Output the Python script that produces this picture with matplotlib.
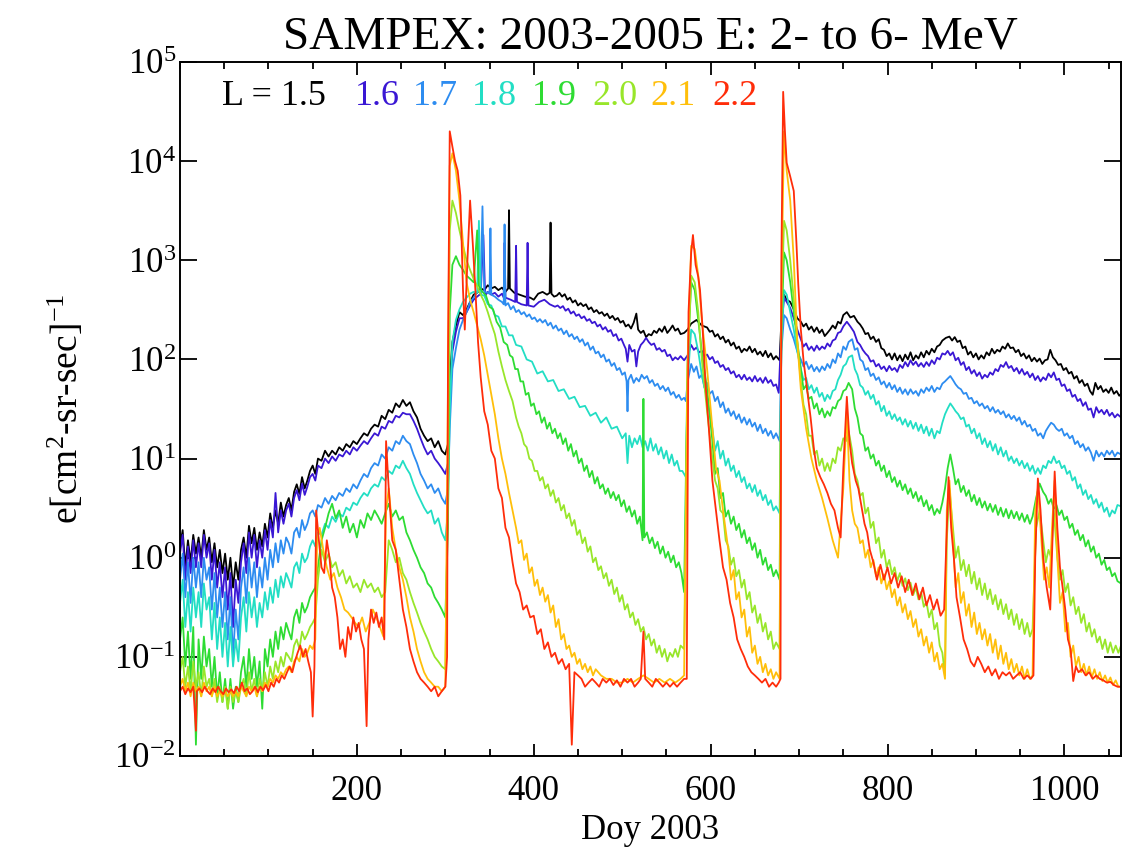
import matplotlib
matplotlib.use("Agg")
import matplotlib.pyplot as plt
from matplotlib.ticker import MultipleLocator, NullLocator, FixedLocator, LogFormatterMathtext

plt.rcParams["font.family"] = ["Liberation Serif", "DejaVu Serif"]
plt.rcParams["mathtext.fontset"] = "custom"
plt.rcParams["mathtext.rm"] = "Liberation Serif"
plt.rcParams["mathtext.it"] = "Liberation Serif:italic"
plt.rcParams["mathtext.default"] = "regular"
plt.rcParams["axes.unicode_minus"] = False

# (day, flux), one list per L shell
L15 = [(0, 1.3), (3, 1.9), (6, 0.8), (9, 1.5), (12, 0.9), (15, 1.7), (18, 1.1), (21, 1.6), (24, 1.0), (27, 1.9),
       (30, 1.2), (33, 1.6), (36, 0.9), (39, 1.4), (42, 0.8), (45, 1.2), (48, 0.7), (51, 1.1), (54, 0.6), (57, 1.0),
       (60, 0.5), (63, 0.9), (66, 0.6), (69, 1.2), (72, 1.6), (75, 1.0), (78, 2.1), (81, 1.4), (84, 2.0), (87, 1.2),
       (90, 1.8), (93, 1.3), (96, 2.2), (99, 1.6), (102, 2.8), (105, 2.0), (108, 3.0), (111, 2.2), (114, 3.6),
       (117, 2.6), (120, 3.4), (123, 4.0), (126, 3.0), (129, 4.6), (132, 5.5), (135, 4.4), (138, 6.5), (141, 5.0),
       (144, 6.0), (147, 7.5), (150, 8.5), (153, 7.0), (156, 10), (160, 9.5), (164, 12), (168, 10.5), (172, 12),
       (176, 11), (180, 13), (184, 12), (188, 14), (192, 13), (196, 15), (200, 14), (204, 16), (208, 18), (212, 17),
       (216, 20), (220, 22), (224, 21), (228, 27), (232, 25), (236, 31), (240, 29), (244, 36), (248, 33), (252, 39),
       (256, 34), (260, 37), (264, 30), (268, 26), (272, 20), (276, 17), (280, 15), (284, 16), (288, 13), (292, 15),
       (296, 12), (300, 11), (303, 14), (305, 60), (308, 150), (312, 220), (316, 300), (320, 280), (324, 320),
       (328, 380), (332, 450), (336, 470), (340, 520), (344, 500), (348, 560), (352, 520), (356, 540), (360, 500),
       (364, 530), (368, 480), (371, 520), (372, 3200), (373, 520), (378, 470), (384, 450), (390, 430), (396, 420),
       (400, 400), (405, 460), (410, 480), (415, 450), (418, 470), (419, 2400), (420, 460), (423, 430), (426, 440),
       (429, 470), (432, 430), (435, 455), (438, 400), (441, 420), (444, 375), (447, 395), (450, 350), (453, 370),
       (456, 345), (459, 360), (462, 320), (465, 335), (468, 300), (471, 315), (474, 290), (477, 300), (480, 275),
       (483, 290), (486, 260), (489, 275), (492, 250), (495, 262), (498, 235), (501, 245), (504, 215), (507, 225),
       (510, 205), (513, 235), (516, 290), (518, 200), (521, 185), (524, 195), (527, 168), (530, 180), (533, 175),
       (536, 195), (539, 185), (542, 205), (545, 190), (548, 215), (551, 185), (554, 200), (557, 220), (560, 195),
       (563, 205), (566, 180), (570, 185), (574, 200), (578, 230), (584, 250), (590, 220), (596, 210), (599, 190),
       (602, 195), (605, 170), (608, 180), (611, 160), (614, 170), (617, 148), (620, 158), (623, 138), (626, 148),
       (629, 128), (632, 135), (635, 118), (638, 128), (641, 122), (644, 135), (647, 118), (650, 128), (653, 112),
       (656, 120), (659, 108), (662, 122), (665, 105), (668, 115), (671, 100), (674, 108), (678, 98), (680, 250),
       (683, 450), (686, 400), (690, 380), (694, 320), (698, 260), (702, 240), (705, 215), (708, 230), (711, 200),
       (714, 215), (717, 190), (720, 210), (723, 185), (726, 200), (729, 172), (732, 185), (735, 200), (738, 220),
       (741, 205), (744, 240), (747, 230), (750, 280), (754, 300), (758, 265), (762, 275), (766, 240), (769, 225),
       (772, 205), (775, 180), (778, 185), (781, 160), (784, 170), (787, 150), (790, 160), (793, 130), (796, 125),
       (799, 108), (802, 115), (805, 100), (808, 115), (811, 98), (814, 110), (817, 96), (820, 112), (823, 100),
       (826, 118), (829, 98), (832, 110), (835, 102), (838, 118), (841, 105), (844, 122), (847, 112), (850, 128),
       (853, 118), (856, 135), (859, 140), (862, 155), (866, 165), (870, 170), (873, 155), (876, 168), (879, 150),
       (882, 155), (885, 130), (888, 135), (891, 112), (894, 120), (897, 105), (900, 115), (903, 100), (906, 110),
       (909, 102), (912, 118), (915, 110), (918, 128), (921, 115), (924, 125), (927, 120), (930, 135), (933, 128),
       (936, 145), (939, 130), (942, 132), (945, 118), (948, 125), (951, 108), (954, 115), (957, 102), (960, 110),
       (963, 96), (966, 104), (969, 95), (972, 102), (975, 90), (978, 98), (981, 100), (984, 125), (987, 105),
       (990, 98), (993, 88), (996, 90), (999, 78), (1002, 82), (1005, 72), (1008, 75), (1011, 64), (1014, 68),
       (1017, 58), (1020, 62), (1023, 54), (1026, 57), (1029, 48), (1032, 44), (1035, 58), (1038, 50), (1041, 54),
       (1044, 47), (1047, 50), (1050, 46), (1053, 52), (1056, 45), (1059, 48), (1062, 43), (1064, 45)]

L16 = [(0, 1.1), (3, 1.7), (6, 0.6), (9, 1.3), (12, 0.7), (15, 1.5), (18, 0.8), (21, 1.4), (24, 0.8), (27, 1.7),
       (30, 1.0), (33, 1.4), (36, 0.6), (39, 1.2), (42, 0.5), (45, 0.9), (48, 0.4), (51, 0.8), (54, 0.3), (57, 0.7),
       (60, 0.2), (63, 0.6), (66, 0.35), (69, 0.9), (72, 1.4), (75, 0.7), (78, 1.8), (81, 1.0), (84, 1.7), (87, 0.8),
       (90, 1.5), (93, 1.0), (96, 1.9), (99, 1.2), (102, 2.4), (105, 1.6), (108, 4.5), (111, 1.8), (114, 3.0),
       (117, 2.2), (120, 3.0), (123, 3.5), (126, 2.6), (129, 4.0), (132, 4.8), (135, 3.8), (138, 5.6), (141, 4.3),
       (144, 5.2), (147, 6.5), (150, 7.0), (153, 6.0), (156, 8.5), (160, 8.0), (164, 10), (168, 9.0), (172, 10.5),
       (176, 9.5), (180, 11), (184, 10.5), (188, 12), (192, 11), (196, 13), (200, 12), (204, 13.5), (208, 15),
       (212, 14), (216, 16), (220, 18), (224, 17), (228, 21), (232, 20), (236, 24), (240, 23), (244, 27), (248, 26),
       (252, 29), (256, 28), (260, 28), (264, 24), (268, 20), (272, 16), (276, 13), (280, 11), (284, 12), (288, 10),
       (292, 9), (296, 8), (300, 7), (303, 9), (305, 40), (308, 120), (312, 190), (316, 260), (320, 260), (324, 300),
       (328, 350), (332, 400), (336, 430), (340, 460), (343, 1800), (345, 440), (348, 480), (352, 450), (356, 470),
       (360, 430), (364, 460), (366, 420), (367, 1500), (368, 420), (374, 400), (379, 380), (380, 1400), (381, 380),
       (386, 360), (392, 350), (393, 1500), (394, 350), (400, 340), (406, 380), (412, 400), (418, 360), (424, 340),
       (427, 350), (430, 330), (433, 345), (436, 310), (439, 325), (442, 290), (445, 305), (448, 275), (451, 285),
       (454, 260), (457, 272), (460, 245), (463, 255), (466, 232), (469, 240), (472, 215), (475, 225), (478, 200),
       (481, 212), (484, 190), (487, 198), (490, 172), (493, 180), (496, 155), (499, 162), (502, 140), (504, 128),
       (506, 95), (508, 140), (511, 120), (514, 125), (516, 85), (518, 120), (521, 140), (524, 150), (527, 165),
       (530, 150), (533, 140), (536, 145), (539, 125), (542, 130), (545, 120), (548, 125), (551, 108), (554, 112),
       (557, 98), (560, 105), (563, 100), (566, 108), (570, 98), (574, 110), (578, 140), (581, 125), (584, 132),
       (587, 118), (590, 122), (593, 108), (596, 112), (599, 100), (602, 106), (605, 92), (608, 96), (611, 84),
       (614, 88), (617, 78), (620, 82), (623, 72), (626, 76), (629, 66), (632, 70), (635, 63), (638, 70), (641, 62),
       (644, 66), (647, 60), (650, 68), (653, 60), (656, 65), (659, 58), (662, 66), (665, 58), (668, 62), (671, 54),
       (674, 56), (677, 46), (680, 200), (683, 420), (686, 380), (690, 330), (694, 260), (698, 200), (702, 160),
       (705, 135), (708, 145), (711, 125), (714, 135), (717, 122), (720, 138), (723, 125), (726, 135), (729, 128),
       (732, 145), (735, 135), (738, 155), (741, 160), (744, 185), (747, 190), (750, 215), (754, 240), (758, 215),
       (762, 190), (766, 150), (769, 140), (772, 125), (775, 115), (778, 108), (781, 95), (784, 98), (787, 85),
       (790, 90), (793, 80), (796, 85), (799, 76), (802, 86), (805, 78), (808, 82), (811, 75), (814, 88), (817, 82),
       (820, 94), (823, 85), (826, 98), (829, 88), (832, 95), (835, 85), (838, 92), (841, 84), (844, 94), (847, 86),
       (850, 98), (853, 90), (856, 104), (859, 100), (862, 115), (865, 112), (868, 122), (871, 110), (874, 118),
       (877, 98), (880, 104), (883, 88), (886, 94), (889, 78), (892, 84), (895, 72), (898, 78), (901, 68), (904, 74),
       (907, 64), (910, 70), (913, 66), (916, 74), (919, 70), (922, 80), (925, 76), (928, 88), (931, 84), (934, 94),
       (937, 82), (940, 86), (943, 76), (946, 82), (949, 72), (952, 80), (955, 70), (958, 75), (961, 66), (964, 72),
       (967, 62), (970, 68), (973, 60), (976, 66), (979, 62), (982, 72), (985, 66), (988, 74), (991, 62), (994, 64),
       (997, 54), (1000, 56), (1003, 48), (1006, 50), (1009, 42), (1012, 44), (1015, 38), (1018, 40), (1021, 34),
       (1024, 37), (1027, 31), (1030, 32), (1033, 26), (1036, 33), (1039, 29), (1042, 31), (1045, 28), (1048, 31),
       (1051, 27), (1054, 29), (1057, 26), (1060, 28), (1064, 26)]

L17 = [(0, 0.6), (3, 1.1), (6, 0.4), (9, 0.9), (12, 0.35), (15, 1.0), (18, 0.5), (21, 0.9), (24, 0.4), (27, 1.0),
       (30, 0.6), (33, 0.8), (36, 0.3), (39, 0.7), (42, 0.25), (45, 0.5), (48, 0.2), (51, 0.45), (54, 0.15),
       (57, 0.4), (60, 0.1), (63, 0.3), (66, 0.15), (69, 0.5), (72, 0.8), (75, 0.35), (78, 1.0), (81, 0.5),
       (84, 0.9), (87, 0.4), (90, 0.8), (93, 0.5), (96, 1.0), (99, 0.6), (102, 1.2), (105, 0.8), (108, 1.4),
       (111, 0.9), (114, 1.5), (117, 1.1), (120, 1.6), (123, 1.4), (126, 1.1), (129, 1.8), (132, 2.0), (135, 1.6),
       (138, 2.4), (141, 1.9), (144, 2.2), (147, 2.8), (150, 3.0), (153, 2.6), (156, 3.4), (160, 3.2), (164, 4.0),
       (168, 3.5), (172, 4.2), (176, 3.8), (180, 4.5), (184, 4.2), (188, 5.0), (192, 4.6), (196, 5.5), (200, 5.0),
       (204, 6.0), (208, 7.0), (212, 6.5), (216, 8.0), (220, 9.0), (224, 8.5), (228, 11), (232, 10), (236, 13),
       (240, 12), (244, 15), (248, 14), (252, 17), (256, 15), (260, 14), (264, 11), (268, 9), (272, 7), (276, 6),
       (280, 5), (284, 5.5), (288, 4.5), (292, 5), (296, 4), (300, 3.5), (303, 5), (305, 20), (308, 80), (312, 130),
       (316, 200), (320, 250), (324, 300), (328, 380), (332, 420), (336, 480), (340, 500), (342, 3500), (344, 480),
       (348, 470), (350, 460), (351, 2100), (352, 450), (356, 430), (360, 400), (364, 380), (366, 360), (367, 2300),
       (368, 350), (371, 370), (374, 320), (377, 345), (380, 300), (383, 315), (386, 285), (389, 300), (392, 270),
       (395, 285), (398, 255), (401, 265), (404, 240), (407, 255), (410, 235), (413, 250), (416, 220), (419, 235),
       (422, 205), (425, 220), (428, 195), (431, 205), (434, 180), (437, 195), (440, 170), (443, 180), (446, 160),
       (449, 170), (452, 150), (455, 160), (458, 138), (461, 148), (464, 125), (467, 135), (470, 115), (473, 120),
       (476, 105), (479, 112), (482, 95), (485, 100), (488, 86), (491, 92), (494, 78), (497, 82), (500, 70),
       (503, 74), (505, 60), (506, 30), (507, 62), (510, 70), (513, 58), (516, 65), (519, 60), (522, 70), (525, 64),
       (528, 68), (531, 58), (534, 62), (537, 54), (540, 57), (543, 50), (546, 54), (549, 48), (552, 52), (555, 44),
       (558, 47), (561, 41), (564, 44), (567, 39), (570, 41), (572, 38), (574, 60), (578, 90), (581, 75), (584, 85),
       (587, 65), (590, 70), (593, 52), (596, 58), (599, 45), (602, 48), (605, 38), (608, 42), (611, 33), (614, 37),
       (617, 29), (620, 32), (623, 27), (626, 30), (629, 25), (632, 28), (635, 23), (638, 26), (641, 22), (644, 25),
       (647, 21), (650, 23), (653, 19), (656, 22), (659, 18), (662, 20), (665, 17), (668, 19), (671, 16), (674, 18),
       (678, 15), (680, 120), (683, 280), (686, 260), (690, 200), (694, 160), (698, 120), (702, 100), (705, 85),
       (708, 95), (711, 80), (714, 88), (717, 76), (720, 84), (723, 75), (726, 85), (729, 78), (732, 90), (735, 82),
       (738, 100), (741, 92), (744, 115), (747, 105), (750, 135), (753, 125), (756, 150), (760, 160), (763, 125),
       (766, 130), (769, 100), (772, 95), (775, 78), (778, 82), (781, 68), (784, 72), (787, 62), (790, 66), (793, 56),
       (796, 60), (799, 52), (802, 58), (805, 50), (808, 55), (811, 47), (814, 52), (817, 45), (820, 50), (823, 44),
       (826, 50), (829, 45), (832, 48), (835, 43), (838, 50), (841, 46), (844, 52), (847, 48), (850, 54), (853, 47),
       (856, 52), (859, 50), (862, 57), (865, 60), (868, 64), (871, 68), (874, 62), (877, 56), (880, 52), (883, 50),
       (886, 45), (889, 46), (892, 40), (895, 41), (898, 36), (901, 38), (904, 34), (907, 36), (910, 32), (913, 34),
       (916, 30), (919, 33), (922, 29), (925, 31), (928, 28), (931, 30), (934, 26), (937, 28), (940, 25), (943, 27),
       (946, 24), (949, 26), (952, 22), (955, 24), (958, 21), (961, 22), (964, 19), (967, 20), (970, 17), (973, 18),
       (976, 16), (979, 19), (982, 21), (985, 23), (988, 22), (991, 20), (994, 19), (997, 20), (1000, 17),
       (1003, 18), (1006, 16), (1009, 17), (1012, 14), (1015, 15), (1018, 13), (1021, 14), (1024, 12), (1027, 13),
       (1030, 11.5), (1033, 9.5), (1036, 12), (1039, 10.5), (1042, 11.5), (1045, 10.5), (1048, 12), (1051, 11),
       (1054, 12), (1057, 10.5), (1060, 11.5), (1064, 11)]

L18 = [(0, 0.35), (3, 0.6), (6, 0.2), (9, 0.45), (12, 0.18), (15, 0.5), (18, 0.25), (21, 0.45), (24, 0.2),
       (27, 0.55), (30, 0.3), (33, 0.4), (36, 0.15), (39, 0.35), (42, 0.12), (45, 0.25), (48, 0.1), (51, 0.22),
       (54, 0.08), (57, 0.2), (60, 0.08), (63, 0.15), (66, 0.09), (69, 0.25), (72, 0.4), (75, 0.18), (78, 0.45),
       (81, 0.25), (84, 0.4), (87, 0.2), (90, 0.35), (93, 0.25), (96, 0.45), (99, 0.3), (102, 0.5), (105, 0.35),
       (108, 0.6), (111, 0.4), (114, 0.65), (117, 0.5), (120, 0.7), (123, 0.6), (126, 0.5), (129, 0.8), (132, 0.9),
       (135, 0.7), (138, 1.1), (141, 0.9), (144, 1.0), (147, 1.3), (150, 1.5), (153, 1.3), (156, 1.8), (160, 1.7),
       (164, 2.2), (168, 2.0), (172, 2.6), (176, 2.3), (180, 2.8), (184, 2.6), (188, 3.2), (192, 3.0), (196, 3.6),
       (200, 3.4), (204, 4.0), (208, 4.5), (212, 4.2), (216, 5.0), (220, 5.5), (224, 5.2), (228, 6.5), (232, 6.0),
       (236, 7.5), (240, 7.0), (244, 8.5), (248, 8.0), (252, 9.5), (256, 8.0), (260, 7.0), (264, 5.5), (268, 4.5),
       (272, 3.8), (276, 3.2), (280, 2.8), (284, 3.0), (288, 2.2), (292, 2.5), (296, 1.8), (300, 1.5), (303, 3),
       (305, 30), (308, 150), (312, 250), (316, 320), (320, 380), (324, 420), (328, 460), (332, 480), (336, 470),
       (338, 2500), (340, 450), (344, 440), (348, 360), (352, 350), (356, 280), (360, 270), (364, 215), (368, 215),
       (372, 175), (376, 175), (380, 140), (386, 135), (392, 100), (398, 95), (404, 72), (410, 76), (416, 60),
       (422, 62), (428, 48), (434, 50), (440, 40), (446, 42), (452, 33), (458, 34), (464, 27), (470, 29), (476, 23),
       (482, 26), (488, 20), (494, 21), (500, 16), (504, 18), (506, 9), (508, 17), (511, 13), (514, 16), (517, 14),
       (520, 17), (523, 13), (526, 15), (529, 12), (532, 16), (535, 12), (538, 14), (541, 11), (544, 13), (547, 10),
       (550, 12), (553, 9), (556, 11), (559, 8.5), (562, 9.5), (565, 7.5), (568, 7.5), (572, 6.5), (574, 60),
       (578, 200), (582, 180), (586, 120), (590, 70), (596, 40), (602, 20), (605, 12), (608, 15), (611, 10),
       (614, 12), (617, 8.5), (620, 10), (623, 7.5), (626, 8.5), (629, 6.5), (632, 7.5), (635, 5.8), (638, 6.5),
       (641, 5), (644, 5.6), (647, 4.6), (650, 5.4), (653, 4.2), (656, 4.8), (659, 3.8), (662, 4.3), (665, 3.4),
       (668, 3.8), (671, 3.0), (674, 3.3), (678, 2.8), (680, 150), (683, 500), (686, 450), (690, 300), (694, 200),
       (698, 120), (702, 80), (705, 62), (708, 65), (711, 50), (714, 55), (717, 46), (720, 52), (723, 42), (726, 46),
       (729, 38), (732, 44), (735, 40), (738, 48), (741, 50), (744, 62), (747, 70), (750, 85), (753, 90), (756, 105),
       (760, 110), (763, 80), (766, 70), (769, 55), (772, 52), (775, 44), (778, 48), (781, 40), (784, 44), (787, 35),
       (790, 38), (793, 30), (796, 34), (799, 27), (802, 30), (805, 25), (808, 28), (811, 24), (814, 26), (817, 22),
       (820, 25), (823, 21), (826, 24), (829, 20), (832, 23), (835, 19), (838, 22), (841, 18), (844, 21), (847, 17),
       (850, 20), (853, 16), (856, 19), (859, 18), (862, 23), (865, 28), (868, 32), (871, 36), (874, 33), (877, 30),
       (880, 28), (883, 25), (886, 26), (889, 21), (892, 22), (895, 18), (898, 20), (901, 16), (904, 18), (907, 14),
       (910, 16), (913, 13), (916, 15), (919, 12), (922, 14), (925, 11), (928, 13), (931, 10.5), (934, 12),
       (937, 9.5), (940, 10.5), (943, 9), (946, 10), (949, 8.5), (952, 9.5), (955, 8), (958, 9), (961, 7.5),
       (964, 8.5), (967, 7), (970, 8), (973, 7), (976, 8.5), (979, 8), (982, 9.5), (985, 9), (988, 10.5), (991, 9),
       (994, 9.5), (997, 8), (1000, 8.5), (1003, 7), (1006, 7.5), (1009, 6), (1012, 6.5), (1015, 5), (1018, 5.5),
       (1021, 4.3), (1024, 4.8), (1027, 3.9), (1030, 4.3), (1033, 3.5), (1036, 3.9), (1039, 3.2), (1042, 3.6),
       (1045, 2.9), (1048, 3.2), (1051, 2.6), (1054, 3.0), (1057, 2.8), (1060, 3.4), (1064, 3.3)]

L19 = [(0, 0.15), (3, 0.25), (6, 0.08), (9, 0.18), (12, 0.06), (15, 0.2), (18, 0.013), (21, 0.15), (24, 0.06),
       (27, 0.16), (30, 0.08), (33, 0.12), (36, 0.05), (39, 0.1), (42, 0.04), (45, 0.07), (48, 0.035), (51, 0.06),
       (54, 0.03), (57, 0.06), (60, 0.03), (63, 0.05), (66, 0.035), (69, 0.07), (72, 0.1), (75, 0.05), (78, 0.12),
       (81, 0.06), (84, 0.1), (87, 0.05), (90, 0.09), (93, 0.03), (96, 0.12), (99, 0.08), (102, 0.15), (105, 0.1),
       (108, 0.18), (111, 0.12), (114, 0.2), (117, 0.15), (120, 0.22), (123, 0.18), (126, 0.15), (129, 0.25),
       (132, 0.3), (135, 0.22), (138, 0.35), (141, 0.28), (144, 0.32), (147, 0.4), (150, 0.45), (153, 0.5),
       (156, 0.8), (160, 1.5), (164, 2.0), (168, 2.8), (172, 3.5), (176, 2.5), (180, 3.0), (184, 2.0), (188, 2.6),
       (192, 1.8), (196, 2.2), (200, 1.6), (204, 2.4), (208, 2.0), (212, 2.8), (216, 2.4), (220, 3.0), (224, 2.6),
       (228, 2.2), (232, 2.8), (236, 3.5), (240, 2.6), (244, 3.0), (248, 2.4), (252, 2.6), (256, 1.8), (260, 1.5),
       (264, 1.2), (268, 1.0), (272, 0.8), (276, 0.7), (280, 0.55), (284, 0.5), (288, 0.4), (292, 0.35), (296, 0.3),
       (300, 0.25), (303, 2), (305, 300), (308, 900), (312, 1100), (316, 900), (320, 800), (324, 700), (328, 650),
       (332, 600), (336, 2000), (338, 550), (342, 480), (346, 440), (350, 340), (354, 320), (358, 240), (362, 210),
       (366, 150), (370, 140), (373, 110), (376, 105), (379, 80), (382, 80), (385, 60), (388, 60), (391, 44),
       (394, 46), (397, 34), (400, 36), (403, 28), (406, 30), (409, 23), (412, 26), (415, 20), (418, 23), (421, 18),
       (424, 20), (427, 16), (430, 18), (433, 14), (436, 16), (439, 12), (442, 14), (445, 10.5), (448, 12), (451, 9),
       (454, 10), (457, 7.5), (460, 8.5), (463, 6.5), (466, 7.5), (469, 5.6), (472, 6.5), (475, 5), (478, 5.5),
       (481, 4.4), (484, 5), (487, 4), (490, 4.6), (493, 3.8), (496, 4.3), (499, 3.3), (502, 3.8), (505, 2.9),
       (508, 3.3), (511, 2.6), (514, 3), (517, 2.2), (520, 2.6), (523, 1.5), (524, 40), (525, 1.6), (528, 1.8),
       (531, 1.4), (534, 1.6), (537, 1.25), (540, 1.45), (543, 1.1), (546, 1.3), (549, 1.0), (552, 1.15), (555, 0.9),
       (558, 1.05), (561, 0.8), (564, 0.9), (567, 0.7), (570, 0.45), (574, 100), (578, 600), (582, 500), (586, 250),
       (590, 120), (596, 50), (602, 15), (605, 7), (608, 8), (611, 4), (614, 4.5), (617, 2.6), (620, 3), (623, 2.2),
       (626, 2.6), (629, 1.9), (632, 2.2), (635, 1.6), (638, 1.9), (641, 1.4), (644, 1.6), (647, 1.2), (650, 1.4),
       (653, 1.0), (656, 1.2), (659, 0.85), (662, 1.0), (665, 0.75), (668, 0.85), (671, 0.65), (674, 0.75),
       (678, 0.6), (680, 200), (683, 1200), (686, 1000), (690, 600), (694, 300), (698, 150), (702, 80), (705, 50),
       (708, 55), (711, 40), (714, 42), (717, 32), (720, 36), (723, 28), (726, 32), (729, 26), (732, 30), (735, 27),
       (738, 33), (741, 32), (744, 38), (747, 40), (750, 48), (753, 50), (756, 58), (760, 50), (763, 32), (766, 26),
       (769, 18), (772, 17), (775, 12), (778, 13), (781, 10), (784, 11), (787, 8.5), (790, 9.5), (793, 7.5),
       (796, 8.5), (799, 6.5), (802, 7.5), (805, 5.8), (808, 6.5), (811, 5.2), (814, 6), (817, 4.8), (820, 5.5),
       (823, 4.4), (826, 5), (829, 4), (832, 4.6), (835, 3.7), (838, 4.2), (841, 3.3), (844, 3.8), (847, 3.0),
       (850, 3.4), (853, 2.7), (856, 3.1), (859, 2.8), (862, 3.6), (865, 5), (868, 8), (871, 11), (874, 8),
       (877, 5.5), (880, 6.2), (883, 4.6), (886, 5.3), (889, 4.2), (892, 4.8), (895, 3.7), (898, 4.3), (901, 3.4),
       (904, 4), (907, 3.2), (910, 3.7), (913, 3.0), (916, 3.5), (919, 2.9), (922, 3.4), (925, 2.7), (928, 3.2),
       (931, 2.6), (934, 3.1), (937, 2.5), (940, 3.0), (943, 2.5), (946, 2.9), (949, 2.4), (952, 2.8), (955, 2.3),
       (958, 2.7), (961, 2.2), (964, 2.6), (968, 4), (972, 5.6), (976, 4.6), (979, 4.2), (982, 3.5), (985, 3.9),
       (988, 3.1), (991, 3.4), (994, 2.7), (997, 3), (1000, 2.4), (1003, 2.6), (1006, 2.0), (1009, 2.2), (1012, 1.7),
       (1015, 1.9), (1018, 1.5), (1021, 1.7), (1024, 1.3), (1027, 1.5), (1030, 1.15), (1033, 1.3), (1036, 1.0),
       (1039, 1.1), (1042, 0.85), (1045, 0.95), (1048, 0.75), (1051, 0.8), (1054, 0.65), (1057, 0.7), (1060, 0.58),
       (1064, 0.55)]

L20 = [(0, 0.07), (3, 0.1), (6, 0.05), (9, 0.08), (12, 0.045), (15, 0.09), (18, 0.05), (21, 0.07), (24, 0.04),
       (27, 0.08), (30, 0.05), (33, 0.06), (36, 0.04), (39, 0.06), (42, 0.035), (45, 0.05), (48, 0.035), (51, 0.05),
       (54, 0.03), (57, 0.05), (60, 0.035), (63, 0.045), (66, 0.035), (69, 0.05), (72, 0.06), (75, 0.04), (78, 0.07),
       (81, 0.045), (84, 0.06), (87, 0.04), (90, 0.06), (93, 0.045), (96, 0.07), (99, 0.05), (102, 0.08), (105, 0.06),
       (108, 0.09), (111, 0.07), (114, 0.1), (117, 0.08), (120, 0.11), (123, 0.1), (126, 0.09), (129, 0.13),
       (132, 0.15), (135, 0.12), (138, 0.18), (141, 0.15), (144, 0.17), (147, 0.2), (150, 0.22), (153, 0.25),
       (156, 0.6), (160, 1.2), (164, 0.9), (168, 1.1), (172, 0.8), (176, 0.9), (180, 0.65), (184, 0.75), (188, 0.55),
       (192, 0.65), (196, 0.5), (200, 0.55), (204, 0.45), (208, 0.6), (212, 0.5), (216, 0.55), (220, 0.45),
       (224, 0.5), (228, 0.4), (232, 0.45), (236, 1.5), (240, 1.2), (244, 0.9), (248, 1.0), (252, 0.7), (256, 0.6),
       (260, 0.45), (264, 0.35), (268, 0.28), (272, 0.22), (276, 0.18), (280, 0.15), (284, 0.12), (288, 0.1),
       (292, 0.09), (296, 0.08), (300, 0.075), (303, 5), (305, 2000), (308, 4000), (312, 3000), (316, 2000),
       (320, 1400), (324, 1000), (328, 800), (332, 650), (336, 550), (340, 450), (344, 380), (348, 300), (352, 230),
       (356, 180), (360, 120), (364, 85), (368, 62), (372, 48), (376, 38), (380, 26), (383, 21), (386, 18),
       (389, 14), (392, 13), (395, 10), (398, 9.5), (401, 7.5), (404, 7.5), (407, 6), (410, 6.5), (413, 5),
       (416, 5.5), (419, 4.2), (422, 4.8), (425, 3.6), (428, 4), (431, 3), (434, 3.4), (437, 2.5), (440, 2.8),
       (443, 2.1), (446, 2.4), (449, 1.7), (452, 1.9), (455, 1.4), (458, 1.6), (461, 1.15), (464, 1.3), (467, 0.9),
       (470, 1.0), (473, 0.75), (476, 0.82), (479, 0.62), (482, 0.7), (485, 0.52), (488, 0.6), (491, 0.43),
       (494, 0.5), (497, 0.36), (500, 0.42), (503, 0.3), (506, 0.34), (509, 0.25), (512, 0.28), (515, 0.21),
       (518, 0.24), (521, 0.18), (524, 0.2), (527, 0.15), (530, 0.17), (533, 0.13), (536, 0.15), (539, 0.11),
       (542, 0.13), (545, 0.1), (548, 0.12), (551, 0.09), (554, 0.11), (557, 0.1), (560, 0.12), (563, 0.1),
       (566, 0.13), (570, 0.12), (574, 80), (578, 700), (582, 600), (586, 300), (590, 100), (596, 30), (602, 10),
       (605, 6), (608, 5), (611, 3), (614, 2.8), (617, 1.5), (620, 1.3), (623, 0.85), (626, 1.0), (629, 0.65),
       (632, 0.75), (635, 0.5), (638, 0.6), (641, 0.38), (644, 0.45), (647, 0.28), (650, 0.33), (653, 0.22),
       (656, 0.27), (659, 0.18), (662, 0.22), (665, 0.15), (668, 0.18), (671, 0.12), (674, 0.14), (678, 0.12),
       (680, 300), (683, 2500), (686, 2000), (690, 1000), (694, 400), (698, 150), (702, 60), (705, 35), (708, 28),
       (711, 17), (714, 17), (717, 11), (720, 12), (723, 8.5), (726, 10), (729, 7.5), (732, 9), (735, 7.5),
       (738, 10), (741, 9), (744, 13), (747, 12), (750, 16), (753, 15), (756, 19), (760, 12), (763, 7), (766, 6),
       (769, 4.2), (772, 4.5), (775, 2.8), (778, 3.2), (781, 2), (784, 2.3), (787, 1.4), (790, 1.6), (793, 1.0),
       (796, 1.2), (799, 0.8), (802, 0.95), (805, 0.68), (808, 0.8), (811, 0.58), (814, 0.7), (817, 0.52),
       (820, 0.62), (823, 0.47), (826, 0.56), (829, 0.42), (832, 0.5), (835, 0.38), (838, 0.45), (841, 0.32),
       (844, 0.36), (847, 0.25), (850, 0.3), (853, 0.19), (856, 0.22), (859, 0.13), (862, 0.11), (865, 0.065),
       (867, 1.5), (870, 5), (874, 2), (877, 1.0), (880, 1.3), (883, 0.75), (886, 0.95), (889, 0.65), (892, 0.85),
       (895, 0.55), (898, 0.72), (901, 0.48), (904, 0.62), (907, 0.42), (910, 0.55), (913, 0.38), (916, 0.48),
       (919, 0.34), (922, 0.42), (925, 0.3), (928, 0.38), (931, 0.27), (934, 0.34), (937, 0.24), (940, 0.3),
       (943, 0.21), (946, 0.27), (949, 0.19), (952, 0.24), (955, 0.17), (958, 0.22), (961, 0.16), (964, 0.19),
       (968, 2), (972, 3), (976, 1.5), (979, 0.9), (982, 1.2), (985, 1.0), (988, 3), (992, 1.0), (995, 0.6),
       (998, 0.75), (1001, 0.45), (1004, 0.55), (1007, 0.33), (1010, 0.4), (1013, 0.27), (1016, 0.32), (1019, 0.22),
       (1022, 0.27), (1025, 0.18), (1028, 0.22), (1031, 0.16), (1034, 0.19), (1037, 0.14), (1040, 0.16),
       (1043, 0.12), (1046, 0.15), (1049, 0.11), (1052, 0.14), (1055, 0.11), (1058, 0.13), (1061, 0.11),
       (1064, 0.13)]

L21 = [(0, 0.05), (3, 0.06), (6, 0.045), (9, 0.055), (12, 0.04), (15, 0.055), (18, 0.045), (21, 0.05), (24, 0.04),
       (27, 0.055), (30, 0.045), (33, 0.05), (36, 0.04), (39, 0.05), (42, 0.04), (45, 0.045), (48, 0.04),
       (51, 0.045), (54, 0.04), (57, 0.045), (60, 0.04), (63, 0.045), (66, 0.04), (69, 0.05), (72, 0.045),
       (75, 0.04), (78, 0.05), (81, 0.045), (84, 0.05), (87, 0.04), (90, 0.05), (93, 0.045), (96, 0.055), (99, 0.05),
       (102, 0.06), (105, 0.055), (108, 0.065), (111, 0.06), (114, 0.07), (117, 0.065), (120, 0.075), (123, 0.08),
       (126, 0.07), (129, 0.09), (132, 0.1), (135, 0.09), (138, 0.12), (141, 0.1), (144, 0.11), (147, 0.13),
       (150, 0.12), (153, 0.15), (155, 1.5), (158, 2.0), (162, 1.2), (166, 0.8), (170, 0.6), (174, 0.7), (178, 0.5),
       (182, 0.4), (186, 0.3), (190, 0.28), (194, 0.25), (198, 0.22), (202, 0.2), (206, 0.25), (210, 0.18),
       (214, 0.22), (218, 0.3), (222, 0.25), (226, 0.2), (230, 0.16), (233, 3), (236, 5), (240, 2), (244, 1.2),
       (248, 0.8), (252, 0.6), (256, 0.4), (260, 0.25), (264, 0.18), (268, 0.12), (272, 0.09), (276, 0.07),
       (280, 0.06), (284, 0.055), (288, 0.05), (292, 0.05), (296, 0.045), (300, 0.05), (303, 50), (305, 9000),
       (308, 12000), (312, 8000), (316, 4000), (320, 1500), (324, 600), (328, 400), (332, 300), (336, 220),
       (340, 160), (344, 110), (348, 70), (352, 45), (356, 28), (360, 16), (364, 10), (368, 7), (372, 4.5), (376, 3),
       (380, 2), (383, 1.4), (386, 1.5), (389, 0.95), (392, 1.1), (395, 0.7), (398, 0.8), (401, 0.52), (404, 0.6),
       (407, 0.42), (410, 0.5), (413, 0.36), (416, 0.42), (419, 0.28), (422, 0.33), (425, 0.2), (428, 0.24),
       (431, 0.15), (434, 0.17), (437, 0.12), (440, 0.13), (443, 0.1), (446, 0.11), (449, 0.085), (452, 0.095),
       (455, 0.075), (458, 0.085), (461, 0.07), (464, 0.08), (467, 0.065), (470, 0.075), (476, 0.065), (482, 0.06),
       (488, 0.06), (494, 0.055), (500, 0.055), (506, 0.06), (512, 0.055), (518, 0.06), (524, 0.065), (530, 0.06),
       (536, 0.055), (542, 0.06), (548, 0.055), (554, 0.06), (560, 0.055), (566, 0.06), (570, 0.065), (574, 100),
       (578, 1400), (582, 1300), (586, 700), (590, 250), (596, 80), (602, 20), (606, 8), (610, 6), (614, 3),
       (620, 1.2), (623, 0.6), (626, 0.75), (629, 0.38), (632, 0.45), (635, 0.25), (638, 0.3), (641, 0.16),
       (644, 0.2), (647, 0.11), (650, 0.13), (653, 0.085), (656, 0.1), (659, 0.07), (662, 0.085), (665, 0.065),
       (668, 0.075), (671, 0.06), (674, 0.07), (678, 0.06), (680, 500), (683, 20000), (686, 8000), (690, 4000),
       (694, 1000), (698, 150), (702, 50), (708, 20), (714, 10), (720, 6), (726, 4), (732, 2.5), (738, 1.5),
       (744, 1.0), (750, 5), (754, 30), (757, 6), (760, 3), (763, 2.2), (766, 2.0), (769, 1.4), (772, 1.5),
       (775, 1.0), (778, 1.2), (781, 0.8), (784, 0.95), (787, 0.65), (790, 0.8), (793, 0.55), (796, 0.68),
       (799, 0.48), (802, 0.58), (805, 0.4), (808, 0.48), (811, 0.33), (814, 0.4), (817, 0.28), (820, 0.34),
       (823, 0.24), (826, 0.29), (829, 0.2), (832, 0.24), (835, 0.16), (838, 0.19), (841, 0.13), (844, 0.16),
       (847, 0.11), (850, 0.14), (853, 0.09), (856, 0.11), (859, 0.075), (862, 0.085), (865, 0.06), (867, 3),
       (870, 6), (874, 1.5), (877, 0.5), (880, 0.7), (883, 0.35), (886, 0.45), (889, 0.26), (892, 0.34), (895, 0.2),
       (898, 0.28), (901, 0.17), (904, 0.22), (907, 0.15), (910, 0.19), (913, 0.13), (916, 0.17), (919, 0.11),
       (922, 0.15), (925, 0.095), (928, 0.13), (931, 0.085), (934, 0.11), (937, 0.075), (940, 0.095), (943, 0.07),
       (946, 0.085), (949, 0.065), (952, 0.08), (955, 0.06), (958, 0.075), (961, 0.06), (964, 0.065), (967, 3),
       (970, 5), (974, 1.5), (977, 0.6), (980, 0.8), (983, 0.5), (986, 2), (989, 6), (992, 1), (995, 0.35),
       (998, 0.45), (1001, 0.18), (1004, 0.22), (1007, 0.1), (1010, 0.13), (1013, 0.08), (1016, 0.1), (1019, 0.07),
       (1022, 0.085), (1025, 0.065), (1028, 0.08), (1031, 0.062), (1034, 0.075), (1037, 0.06), (1040, 0.07),
       (1043, 0.057), (1046, 0.065), (1049, 0.055), (1052, 0.062), (1055, 0.052), (1058, 0.058), (1061, 0.05),
       (1064, 0.05)]

L22 = [(0, 0.045), (3, 0.05), (6, 0.042), (9, 0.048), (12, 0.044), (15, 0.05), (18, 0.018), (19, 0.045),
       (22, 0.048), (25, 0.044), (28, 0.05), (31, 0.045), (34, 0.042), (37, 0.048), (40, 0.044), (43, 0.05),
       (46, 0.045), (49, 0.042), (52, 0.048), (55, 0.044), (58, 0.047), (61, 0.043), (64, 0.05), (67, 0.045),
       (70, 0.055), (73, 0.045), (76, 0.048), (79, 0.042), (82, 0.045), (85, 0.05), (88, 0.044), (91, 0.05),
       (94, 0.046), (97, 0.052), (100, 0.045), (103, 0.055), (106, 0.05), (109, 0.06), (112, 0.055), (115, 0.065),
       (118, 0.06), (121, 0.07), (124, 0.08), (127, 0.07), (130, 0.09), (133, 0.11), (136, 0.13), (139, 0.1),
       (142, 0.12), (145, 0.09), (148, 0.07), (150, 0.025), (152, 0.08), (154, 3.0), (157, 1.5), (160, 0.8),
       (163, 0.7), (166, 1.5), (169, 1.0), (172, 0.5), (175, 0.4), (178, 0.25), (181, 0.12), (184, 0.15),
       (187, 0.1), (190, 0.2), (193, 0.15), (196, 0.25), (199, 0.18), (202, 0.22), (205, 0.15), (208, 0.12),
       (211, 0.02), (213, 0.15), (216, 0.3), (219, 0.22), (222, 0.28), (225, 0.2), (228, 0.25), (231, 0.15),
       (233, 15), (236, 5), (240, 1.5), (244, 1.2), (248, 0.6), (252, 0.3), (256, 0.2), (260, 0.12), (264, 0.09),
       (268, 0.07), (272, 0.06), (276, 0.055), (280, 0.05), (284, 0.045), (288, 0.05), (292, 0.04), (296, 0.045),
       (300, 0.05), (302, 0.1), (303, 100), (305, 20000), (308, 14000), (311, 10000), (314, 8000), (317, 4500),
       (320, 500), (322, 200), (325, 1000), (328, 4000), (331, 1500), (334, 500), (337, 150), (340, 66), (344, 30),
       (348, 22), (352, 12), (356, 10), (360, 5), (364, 4), (368, 2), (372, 1.6), (376, 0.9), (380, 0.55),
       (384, 0.45), (388, 0.3), (392, 0.33), (396, 0.25), (400, 0.26), (404, 0.17), (408, 0.19), (412, 0.12),
       (416, 0.14), (420, 0.1), (424, 0.11), (428, 0.085), (432, 0.095), (436, 0.075), (440, 0.085), (443, 0.013),
       (446, 0.07), (450, 0.065), (454, 0.06), (458, 0.05), (462, 0.055), (466, 0.06), (470, 0.055), (474, 0.05),
       (478, 0.06), (482, 0.055), (486, 0.06), (490, 0.052), (494, 0.058), (498, 0.05), (502, 0.06), (506, 0.055),
       (510, 0.06), (514, 0.05), (518, 0.055), (521, 0.06), (524, 0.18), (526, 0.06), (530, 0.055), (534, 0.05),
       (538, 0.06), (542, 0.055), (546, 0.05), (550, 0.055), (554, 0.05), (558, 0.055), (562, 0.05), (566, 0.055),
       (570, 0.06), (573, 0.06), (575, 300), (578, 1200), (580, 1800), (583, 900), (586, 680), (588, 500),
       (591, 200), (594, 60), (598, 20), (602, 6), (606, 3), (610, 1.5), (614, 0.8), (618, 0.6), (622, 0.35),
       (626, 0.25), (630, 0.15), (634, 0.12), (638, 0.1), (642, 0.08), (646, 0.07), (650, 0.065), (654, 0.06),
       (658, 0.055), (662, 0.06), (666, 0.05), (670, 0.055), (674, 0.05), (677, 0.055), (679, 0.06), (680, 1000),
       (682, 50000), (684, 20000), (686, 9600), (690, 7000), (694, 5000), (697, 1500), (699, 590), (702, 200),
       (705, 98), (709, 50), (713, 26), (717, 12), (720, 8), (724, 6.5), (728, 5.5), (732, 4.5), (736, 3.5),
       (740, 3.0), (744, 2.0), (747, 1.6), (750, 8), (754, 42), (757, 15), (760, 9), (764, 6), (767, 5), (770, 3.5),
       (774, 2.2), (777, 1.8), (780, 1.2), (784, 0.9), (788, 0.6), (792, 0.85), (796, 0.6), (800, 0.8),
       (804, 0.55), (808, 0.7), (812, 0.5), (816, 0.65), (820, 0.45), (824, 0.6), (828, 0.42), (832, 0.55),
       (836, 0.38), (840, 0.5), (844, 0.33), (848, 0.42), (852, 0.3), (856, 0.38), (860, 0.26), (864, 0.3),
       (866, 1.0), (869, 6.5), (872, 2), (875, 1.0), (878, 0.4), (882, 0.25), (886, 0.15), (890, 0.12), (894, 0.09),
       (898, 0.08), (902, 0.1), (906, 0.085), (910, 0.07), (914, 0.08), (918, 0.065), (922, 0.075), (926, 0.06),
       (930, 0.07), (934, 0.065), (938, 0.07), (942, 0.06), (946, 0.065), (950, 0.07), (954, 0.06), (958, 0.065),
       (962, 0.06), (965, 0.065), (967, 1.0), (970, 6.3), (973, 3), (976, 1.0), (980, 0.5), (984, 0.3), (987, 2),
       (989, 7.4), (992, 2), (995, 0.8), (998, 0.5), (1001, 0.3), (1004, 0.15), (1007, 0.12), (1010, 0.057),
       (1013, 0.08), (1016, 0.07), (1020, 0.075), (1024, 0.065), (1028, 0.07), (1032, 0.06), (1036, 0.065),
       (1040, 0.06), (1044, 0.058), (1048, 0.055), (1052, 0.056), (1056, 0.052), (1060, 0.05), (1064, 0.05)]

SERIES = [L15, L16, L17, L18, L19, L20, L21, L22]
LABELS = ["L = 1.5", "1.6", "1.7", "1.8", "1.9", "2.0", "2.1", "2.2"]
COLORS = ["#000000", "#3A17D4", "#2D8CF0", "#22DEC4", "#2EDC33", "#98E62A", "#FFBF0A", "#FF2D0A"]
LABEL_X = [222, 355, 413, 472, 532, 592, 650, 712]   # pixel left edges in the reference

W, H = 1127, 861
fig = plt.figure(figsize=(W / 100, H / 100), dpi=100)
ax = fig.add_axes([180 / W, 1 - 756 / H, 941 / W, 694 / H])

for pts, color in zip(SERIES, COLORS):
    days, flux = zip(*pts)
    ax.plot(days, flux, color=color, lw=1.3)

ax.set_yscale("log")
ax.set_xlim(0, 1064)
ax.set_ylim(1e-2, 1e5)
ax.yaxis.set_major_locator(FixedLocator([1e-2, 1e-1, 1e0, 1e1, 1e2, 1e3, 1e4, 1e5]))
ax.yaxis.set_major_formatter(LogFormatterMathtext())
ax.yaxis.set_minor_locator(NullLocator())
ax.set_xticks([200, 400, 600, 800, 1000])
ax.xaxis.set_minor_locator(MultipleLocator(50))

ax.tick_params(axis="both", which="both", direction="in", top=True, right=True, labelsize=25, width=1.3)
ax.tick_params(axis="x", which="major", length=9, pad=14)
ax.tick_params(axis="x", which="minor", length=5)
ax.tick_params(axis="y", which="major", length=12, pad=3)
for s in ax.spines.values():
    s.set_linewidth(1.4)

ax.set_title("SAMPEX: 2003-2005 E: 2- to 6- MeV", fontsize=34, pad=10)
ax.set_xlabel("Doy 2003", fontsize=25, labelpad=4)
ax.set_ylabel(r"e[cm$^{2}$-sr-sec]$^{-1}$", fontsize=27, labelpad=20)

for text, color, px in zip(LABELS, COLORS, LABEL_X):
    ax.text((px - 180) / 941, (756 - 105) / 694, text, color=color, fontsize=26,
            transform=ax.transAxes, ha="left", va="baseline")

fig.savefig("out.png", dpi=100)
